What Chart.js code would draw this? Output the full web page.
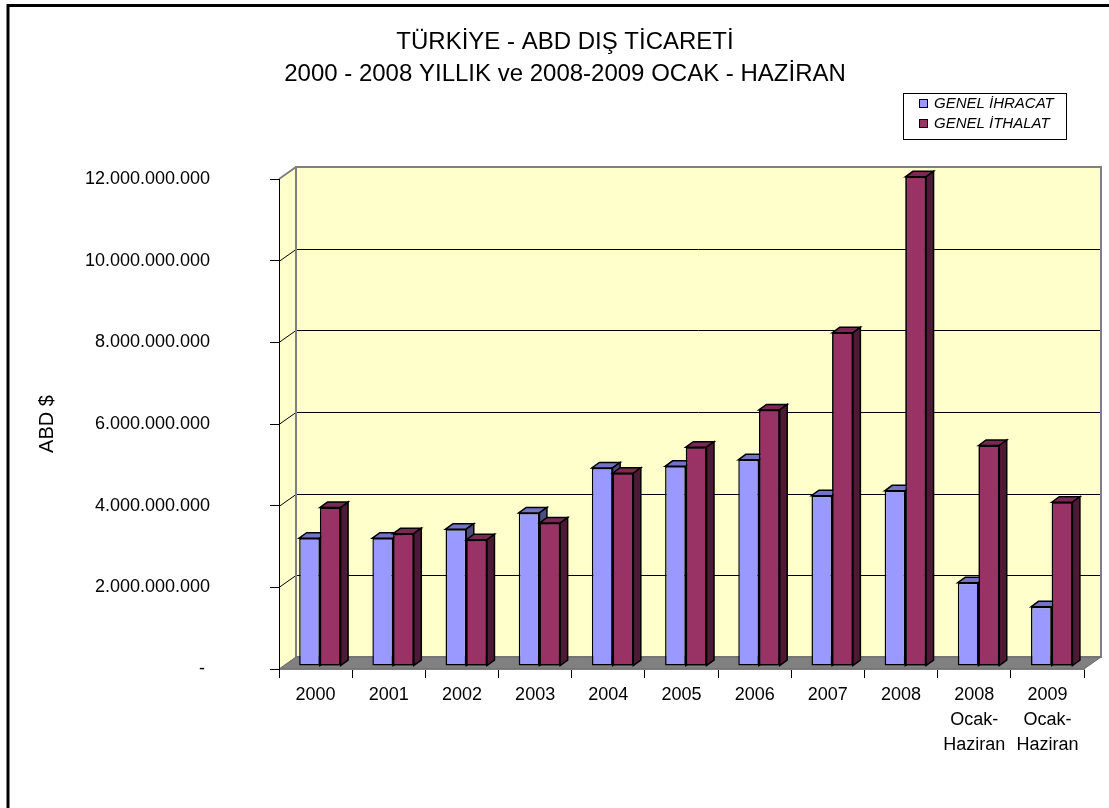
<!DOCTYPE html>
<html>
<head>
<meta charset="utf-8">
<script src="https://cdn.jsdelivr.net/npm/chart.js@4/dist/chart.umd.min.js"></script>
<style>
  html, body { margin: 0; padding: 0; background: #fff; }
  #wrap { width: 1109px; height: 808px; }
</style>
</head>
<body>
<div id="wrap"><canvas id="chart" width="1109" height="808"></canvas></div>
<script>
// data
const categories = [
  ['2000'], ['2001'], ['2002'], ['2003'], ['2004'], ['2005'], ['2006'],
  ['2007'], ['2008'], ['2008', 'Ocak-', 'Haziran'], ['2009', 'Ocak-', 'Haziran']
];
const ihracat = [3130000000, 3130000000, 3350000000, 3750000000, 4850000000, 4890000000,
                 5050000000, 4170000000, 4290000000, 2040000000, 1450000000];
const ithalat = [3880000000, 3240000000, 3090000000, 3500000000, 4720000000, 5360000000,
                 6270000000, 8160000000, 11980000000, 5400000000, 4010000000];
const yTickLabels = ['- ', '2.000.000.000', '4.000.000.000', '6.000.000.000',
                     '8.000.000.000', '10.000.000.000', '12.000.000.000'];
const titleLines = ['TÜRKİYE - ABD DIŞ TİCARETİ', '2000 - 2008 YILLIK ve 2008-2009 OCAK - HAZİRAN'];
const seriesNames = ['GENEL İHRACAT', 'GENEL İTHALAT'];

const FONT = '"Liberation Sans", Arial, sans-serif';
// depth of the walls and of the bars (pseudo 3d like the excel chart)
const WALL_DX = 17, WALL_DY = -12;
const BAR_SHIFT_X = 4.3, BAR_SHIFT_Y = -3;
const BAR_DX = 7.5, BAR_DY = -5.5;
const faces = [
  {top: '#7373C6', side: '#4D4D80'},
  {top: '#7A2952', side: '#4C1A35'}
];

function poly(ctx, pts, fill, stroke, lw) {
  ctx.beginPath();
  ctx.moveTo(pts[0][0], pts[0][1]);
  for (let i = 1; i < pts.length; i++) ctx.lineTo(pts[i][0], pts[i][1]);
  ctx.closePath();
  if (fill) { ctx.fillStyle = fill; ctx.fill(); }
  if (stroke) { ctx.strokeStyle = stroke; ctx.lineWidth = lw || 1; ctx.stroke(); }
}

const wallsPlugin = {
  id: 'walls',
  beforeDraw(chart) {
    const ctx = chart.ctx, a = chart.chartArea, y = chart.scales.y;
    ctx.save();
    // outer frame
    ctx.strokeStyle = '#000';
    ctx.lineWidth = 3;
    ctx.strokeRect(8, 5.5, 1300, 1000);
    // side wall
    poly(ctx, [[a.left, a.top], [a.left + WALL_DX, a.top + WALL_DY],
               [a.left + WALL_DX, a.bottom + WALL_DY], [a.left, a.bottom]], '#FFFFCC');
    // back wall
    ctx.fillStyle = '#FFFFCC';
    ctx.fillRect(a.left + WALL_DX, a.top + WALL_DY, a.right - a.left, a.bottom - a.top);
    // grid lines
    ctx.strokeStyle = '#000';
    ctx.lineWidth = 1;
    y.ticks.forEach(t => {
      if (t.value <= y.min || t.value >= y.max) return;
      const py = Math.round(y.getPixelForValue(t.value)) + 0.5;
      ctx.beginPath();
      ctx.moveTo(a.left, py);
      ctx.lineTo(a.left + WALL_DX, py + WALL_DY);
      ctx.lineTo(a.right + WALL_DX, py + WALL_DY);
      ctx.stroke();
    });
    // wall borders
    ctx.strokeStyle = '#808080';
    ctx.lineWidth = 2;
    ctx.strokeRect(a.left + WALL_DX, a.top + WALL_DY, a.right - a.left, a.bottom - a.top);
    ctx.beginPath();
    ctx.moveTo(a.left, a.top);
    ctx.lineTo(a.left + WALL_DX, a.top + WALL_DY);
    ctx.stroke();
    // floor
    poly(ctx, [[a.left, a.bottom], [a.right, a.bottom], [a.right + WALL_DX, a.bottom + WALL_DY],
               [a.left + WALL_DX, a.bottom + WALL_DY]], '#808080', '#6a6a6a', 1);
    ctx.restore();
  },
  beforeDatasetsDraw(chart) {
    chart.ctx.save();
    chart.ctx.translate(BAR_SHIFT_X, BAR_SHIFT_Y);
  },
  afterDatasetsDraw(chart) {
    const ctx = chart.ctx;
    [0, 1].forEach(di => {
      const meta = chart.getDatasetMeta(di);
      meta.data.forEach(el => {
        if (di === 1) el.draw(ctx); // front face again, over the side of the first bar
        const p = el.getProps(['x', 'y', 'base', 'width'], true);
        const l = p.x - p.width / 2, r = p.x + p.width / 2;
        poly(ctx, [[l, p.y], [l + BAR_DX, p.y + BAR_DY], [r + BAR_DX, p.y + BAR_DY], [r, p.y]],
             faces[di].top, '#000', 1.5);
        poly(ctx, [[r, p.y], [r + BAR_DX, p.y + BAR_DY], [r + BAR_DX, p.base + BAR_DY], [r, p.base]],
             faces[di].side, '#000', 1.5);
      });
    });
    ctx.restore();
  },
  afterDraw(chart) {
    const ctx = chart.ctx;
    ctx.save();
    // title
    ctx.fillStyle = '#000';
    ctx.font = '24px ' + FONT;
    ctx.textAlign = 'center';
    ctx.textBaseline = 'middle';
    ctx.fillText(titleLines[0], 565, 42);
    ctx.fillText(titleLines[1], 565, 74);
    // legend
    ctx.lineWidth = 1;
    ctx.strokeStyle = '#000';
    ctx.fillStyle = '#fff';
    ctx.fillRect(903.5, 93.5, 163, 46);
    ctx.strokeRect(903.5, 93.5, 163, 46);
    ctx.font = 'italic 15px ' + FONT;
    ctx.textAlign = 'left';
    chart.data.datasets.forEach((ds, i) => {
      const cy = 104 + i * 20;
      ctx.fillStyle = ds.backgroundColor;
      ctx.fillRect(919.5, cy - 4.5, 8, 8);
      ctx.strokeRect(919.5, cy - 4.5, 8, 8);
      ctx.fillStyle = '#000';
      ctx.fillText(ds.label, 934, cy);
    });
    ctx.restore();
  }
};

new Chart(document.getElementById('chart'), {
  type: 'bar',
  data: {
    labels: categories,
    datasets: [
      {label: seriesNames[0], data: ihracat, backgroundColor: '#9999FF'},
      {label: seriesNames[1], data: ithalat, backgroundColor: '#993366'}
    ]
  },
  options: {
    responsive: false,
    animation: false,
    devicePixelRatio: 1,
    layout: {padding: {left: 0, top: 179, right: 25, bottom: 39}},
    datasets: {
      bar: {
        borderColor: '#000', borderWidth: 1.5, borderSkipped: false,
        categoryPercentage: 0.566, barPercentage: 1.0, clip: false
      }
    },
    plugins: {
      legend: {display: false},
      tooltip: {enabled: false}
    },
    scales: {
      x: {
        afterFit(scale) { scale.height = 100; },
        grid: {offset: true, drawOnChartArea: false, drawTicks: true, tickLength: 9,
               color: '#000', tickColor: '#000', tickWidth: 1},
        border: {color: '#808080', width: 1},
        ticks: {color: '#000', font: {family: FONT, size: 18, lineHeight: 1.39}, padding: 4.5,
                maxRotation: 0, autoSkip: false}
      },
      y: {
        min: 0, max: 12000000000,
        afterFit(scale) { scale.width = 279; },
        grid: {drawOnChartArea: false, drawTicks: true, tickLength: 9, color: '#000', tickColor: '#000'},
        border: {color: '#000', width: 1},
        ticks: {stepSize: 2000000000, color: '#000', padding: 60,
                font: {family: FONT, size: 18},
                callback: (v, i) => yTickLabels[i]},
        title: {display: true, text: 'ABD $', color: '#000', font: {family: FONT, size: 20},
                padding: {top: 35, bottom: 0}}
      }
    }
  },
  plugins: [wallsPlugin]
});
</script>
</body>
</html>
